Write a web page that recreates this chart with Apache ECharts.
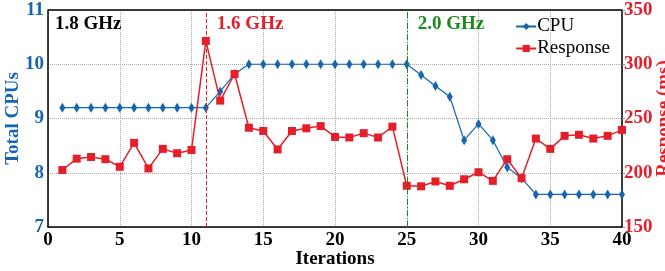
<!DOCTYPE html>
<html>
<head>
<meta charset="utf-8">
<script src="https://cdn.jsdelivr.net/npm/echarts@6/dist/echarts.min.js"></script>
<style>
  html, body { margin: 0; padding: 0; background: #fff; }
  #chart { width: 665px; height: 271px; }
</style>
</head>
<body>
<div id="chart"></div>
<script>
// iterations 1..40
var iterations = [1,2,3,4,5,6,7,8,9,10,11,12,13,14,15,16,17,18,19,20,
  21,22,23,24,25,26,27,28,29,30,31,32,33,34,35,36,37,38,39,40];
var cpuValues = [9.2,9.2,9.2,9.2,9.2,9.2,9.2,9.2,9.2,9.2,9.2,9.5,9.82,10,10,10,10,10,10,10,
  10,10,10,10,10,9.8,9.6,9.4,8.6,8.9,8.6,8.1,7.9,7.6,7.6,7.6,7.6,7.6,7.6,7.6];
var responseValues = [202.5,213,214.5,212.5,205.5,227.5,204,222,218,221,321.5,266.5,291,241.5,238.5,221.5,238.5,241,243,233,
  232.5,236.5,232.5,242.5,188,187.5,192,188,194,200.5,192.5,212.5,195,231.5,222,234,235,231.5,234,239.5];
var freqChanges = [11, 25];
var freqLabels = ['1.8 GHz', '1.6 GHz', '2.0 GHz'];
var freqLabelX = [0, 11, 25];

var blue = '#1565b0';
var red = '#e41f2a';
var green = '#1a8a1a';
var font = 'Liberation Serif';

function pairs(ys) {
  return iterations.map(function (x, i) { return [x, ys[i]]; });
}

var chart = echarts.init(document.getElementById('chart'));

var option = {
  animation: false,
  grid: { left: 48, right: 43, top: 10, bottom: 44, outerBoundsMode: 'none', containLabel: false },
  legend: {
    top: 12,
    right: 50,
    orient: 'vertical',
    itemGap: 3,
    itemWidth: 20,
    itemHeight: 9,
    textStyle: { fontFamily: font, fontSize: 19, color: '#000', padding: [0, 0, 0, -4] },
    data: ['CPU', 'Response']
  },
  xAxis: {
    type: 'value',
    min: 0, max: 40, interval: 5,
    name: 'Iterations',
    nameLocation: 'middle',
    nameGap: 23,
    nameMoveOverlap: false,
    nameTextStyle: { fontFamily: font, fontSize: 19, fontWeight: 'bold', color: '#000' },
    axisLine: { show: true, lineStyle: { color: '#000', width: 1.5 } },
    axisTick: { show: false },
    axisLabel: { fontFamily: font, fontSize: 19, fontWeight: 'bold', color: '#000', margin: 4 },
    splitLine: { show: true, lineStyle: { color: '#aaa', type: 'dotted', width: 1 } }
  },
  yAxis: [
    {
      type: 'value',
      min: 7, max: 11, interval: 1,
      name: 'Total CPUs',
      nameLocation: 'middle',
      nameGap: 25,
      nameMoveOverlap: false,
      nameTextStyle: { fontFamily: font, fontSize: 19, fontWeight: 'bold', color: blue },
      axisLine: { show: true, lineStyle: { color: '#000', width: 1.5 } },
      axisTick: { show: false },
      axisLabel: { fontFamily: font, fontSize: 19, fontWeight: 'bold', color: blue, margin: 4 },
      splitLine: { show: true, lineStyle: { color: '#aaa', type: 'dotted', width: 1 } }
    },
    {
      type: 'value',
      min: 150, max: 350, interval: 50,
      name: 'Response (ms)',
      nameLocation: 'middle',
      nameGap: 33,
      nameRotate: 90,
      nameMoveOverlap: false,
      nameTextStyle: { fontFamily: font, fontSize: 19, fontWeight: 'bold', color: red },
      axisLine: { show: true, lineStyle: { color: '#000', width: 1.5 } },
      axisTick: { show: true, length: 3, inside: false, lineStyle: { color: '#888' } },
      axisLabel: { fontFamily: font, fontSize: 19, fontWeight: 'bold', color: red, margin: 2 },
      splitLine: { show: false }
    }
  ],
  series: [
    {
      name: 'CPU',
      type: 'line',
      yAxisIndex: 0,
      data: pairs(cpuValues),
      symbol: 'diamond',
      symbolSize: [6, 10],
      lineStyle: { color: blue, width: 1.2 },
      itemStyle: { color: blue },
      z: 3,
      markLine: {
        silent: true,
        symbol: 'none',
        label: { show: false },
        data: [
          { xAxis: freqChanges[0], lineStyle: { color: red, type: 'dashed', width: 1 } },
          { xAxis: freqChanges[1], lineStyle: { color: green, type: [6, 2, 1, 2], width: 1 } }
        ]
      }
    },
    {
      name: 'Response',
      type: 'line',
      yAxisIndex: 1,
      data: pairs(responseValues),
      symbol: 'rect',
      symbolSize: 8,
      lineStyle: { color: red, width: 1.5 },
      itemStyle: { color: red },
      z: 4
    }
  ]
};
chart.setOption(option);

// frequency labels, placed from axis scale
var colors = ['#000', red, green];
var texts = freqLabels.map(function (t, i) {
  var p = chart.convertToPixel({ gridIndex: 0 }, [freqLabelX[i], 11]);
  return {
    type: 'text',
    left: p[0] + (i === 0 ? 7 : 11),
    top: p[1] + 5,
    style: { text: t, fill: colors[i], font: 'bold 19px "' + font + '"' },
    z: 10
  };
});
// top frame line
var tl = chart.convertToPixel({ gridIndex: 0 }, [0, 11]);
var tr = chart.convertToPixel({ gridIndex: 0 }, [40, 11]);
texts.push({
  type: 'line',
  shape: { x1: tl[0], y1: tl[1], x2: tr[0], y2: tr[1] },
  style: { stroke: '#000', lineWidth: 1.5 },
  z: 10
});
chart.setOption({ graphic: texts });
</script>
</body>
</html>
